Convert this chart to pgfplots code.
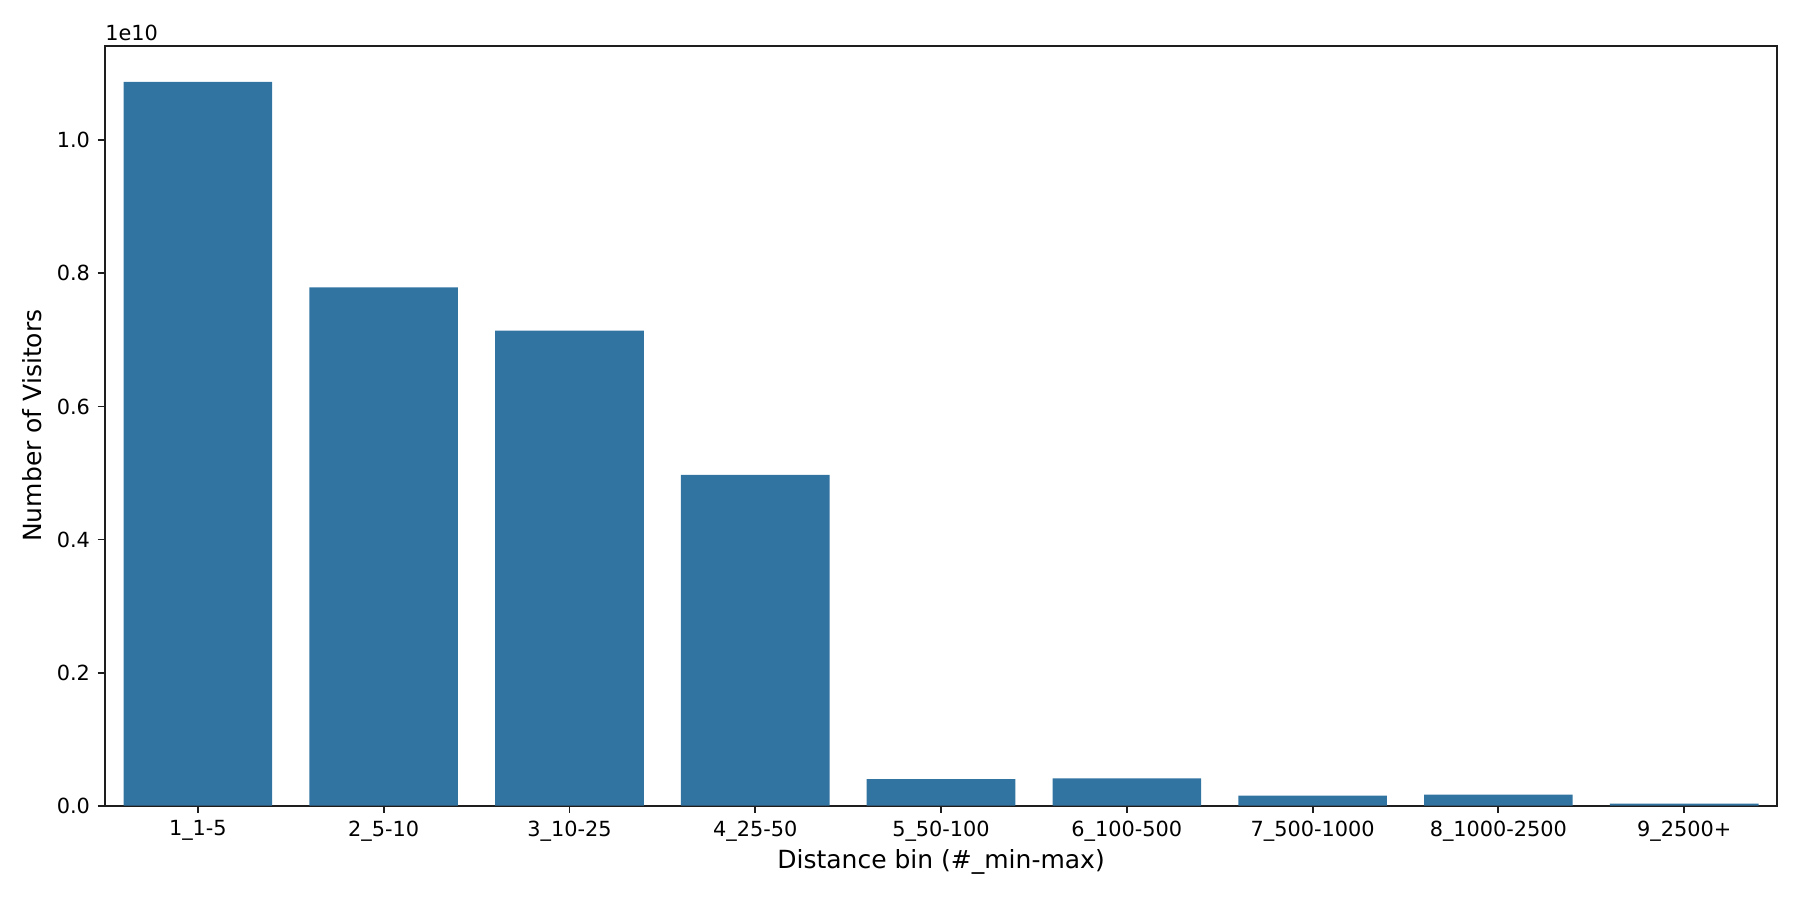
\documentclass[border=0pt]{standalone}
\usepackage{fontspec}
\setmainfont{DejaVu Sans}
\usepackage{pgfplots}
\pgfplotsset{compat=1.18}
\definecolor{barblue}{RGB}{50,116,161}
\definecolor{axgray}{RGB}{30,30,30}

\begin{document}
\begin{tikzpicture}
\path[use as bounding box] (0,0) rectangle (864bp,432bp);
\begin{axis}[
  name=ax,
  at={(50.4bp,45.3bp)}, anchor=south west,
  width=802.6bp, height=364.8bp, scale only axis,
  xmin=-0.5, xmax=8.5, ymin=0, ymax=1.1424,
  xtick={0,...,8},
  xticklabels={1\_1-5,2\_5-10,3\_10-25,4\_25-50,5\_50-100,6\_100-500,7\_500-1000,8\_1000-2500,9\_2500+},
  ytick={0,0.2,0.4,0.6,0.8,1.0},
  yticklabels={0.0,0.2,0.4,0.6,0.8,1.0},
  tick align=outside, major tick length=3.5bp,
  tick style={axgray, line width=0.9bp},
  axis line style={axgray, line width=0.9bp},
  xtick pos=bottom, ytick pos=left,
  ticklabel style={font=\fontsize{10bp}{12bp}\selectfont, inner sep=0pt},
  xticklabel style={yshift=-3.5bp},
  yticklabel style={xshift=-3.5bp},
  xlabel={Distance bin (\#\_min-max)},
  ylabel={Number of Visitors},
  label style={font=\fontsize{12bp}{14bp}\selectfont, inner sep=0pt},
  xlabel style={at={(axis description cs:0.5,-0.057)}, anchor=north},
  ylabel style={at={(axis description cs:-0.0375,0.5)}, anchor=south},
]
\addplot[ybar, bar width=0.8, bar shift=0pt, fill=barblue, draw=none]
  coordinates {(0,1.088) (1,0.779) (2,0.714) (3,0.497) (4,0.040) (5,0.041) (6,0.0150) (7,0.0165) (8,0.0030)};
\end{axis}
\node[anchor=south west, inner sep=0pt, font=\fontsize{10bp}{12bp}\selectfont]
  at ([yshift=2.2bp]ax.north west) {1e10};
\end{tikzpicture}
\end{document}
